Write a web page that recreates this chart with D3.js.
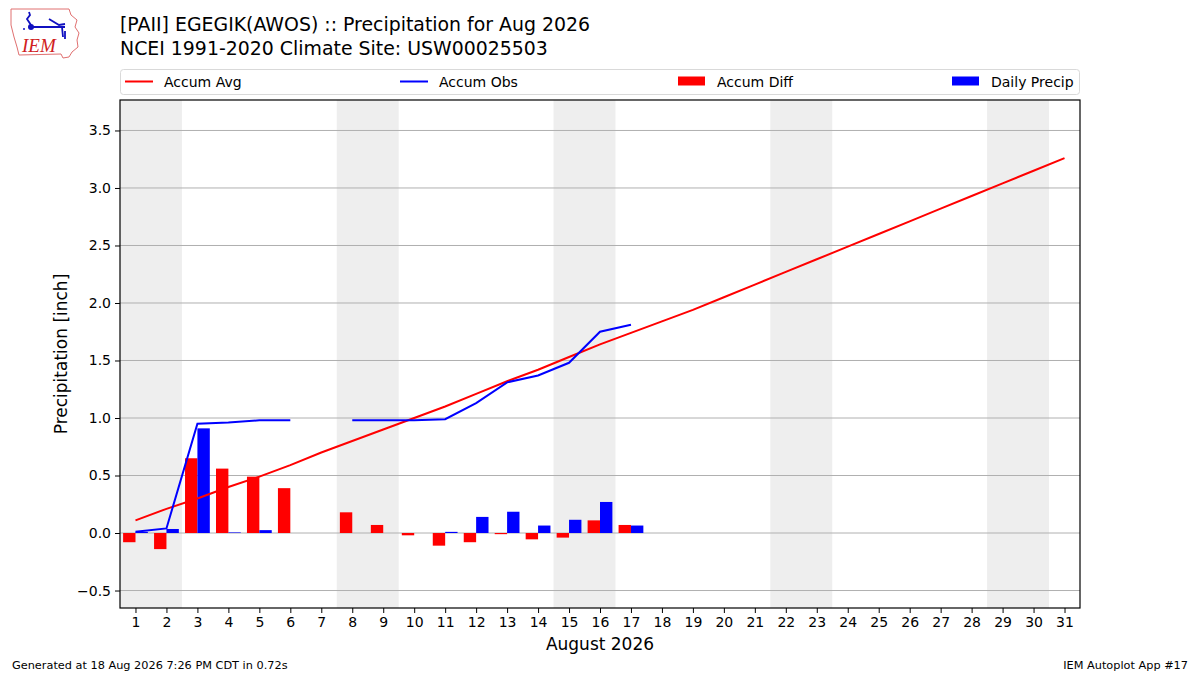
<!DOCTYPE html>
<html>
<head>
<meta charset="utf-8">
<script src="https://cdn.jsdelivr.net/npm/d3@7"></script>
<style>
  body { margin: 0; background: #fff; }
  text { font-family: "DejaVu Sans", sans-serif; fill: #000; }
</style>
</head>
<body>
<div id="chart"></div>
<script>
// day of month
var days = d3.range(1, 32);
// accumulated climatology average (inch)
var accumAvg = [0.11, 0.21, 0.30, 0.40, 0.49, 0.59, 0.70, 0.80, 0.90, 1.00,
    1.10, 1.21, 1.32, 1.42, 1.53, 1.64, 1.74, 1.84, 1.94, 2.05,
    2.16, 2.27, 2.38, 2.49, 2.60, 2.71, 2.82, 2.93, 3.04, 3.15, 3.26];
// accumulated observed (null = missing)
var accumObs = [0.01, 0.04, 0.95, 0.96, 0.98, 0.98, null, 0.98, 0.98, 0.98,
    0.99, 1.13, 1.31, 1.37, 1.48, 1.75, 1.81];
// obs minus avg
var accumDiff = [-0.08, -0.14, 0.65, 0.56, 0.49, 0.39, null, 0.18, 0.07, -0.02,
    -0.11, -0.08, -0.01, -0.055, -0.04, 0.11, 0.07];
var dailyPrecip = [0.01, 0.035, 0.91, 0.005, 0.025, 0, null, 0, 0, 0,
    0.01, 0.14, 0.185, 0.065, 0.115, 0.27, 0.065];
// weekend days (Sat/Sun) shaded
var weekends = [[1, 2], [8, 9], [15, 16], [22, 23], [29, 30]];
var yTicks = [-0.5, 0, 0.5, 1.0, 1.5, 2.0, 2.5, 3.0, 3.5];

var width = 1200,
    height = 675,
    margin = {top: 100, right: 120, bottom: 67, left: 120};

var svg = d3.select("#chart")
    .append("svg")
    .attr("width", width)
    .attr("height", height);

var plotW = width - margin.left - margin.right,
    plotH = height - margin.top - margin.bottom;

var g = svg.append("g")
    .attr("transform", `translate(${margin.left},${margin.top})`);

var xScale = d3.scaleLinear().domain([0.5, 31.5]).range([0, plotW]);
var yScale = d3.scaleLinear().domain([-0.652, 3.765]).range([plotH, 0]);

// weekend shading
g.selectAll(".weekend")
    .data(weekends)
    .enter().append("rect")
    .attr("class", "weekend")
    .attr("x", d => xScale(d[0] - 0.5))
    .attr("y", 0)
    .attr("width", d => xScale(d[1] + 0.5) - xScale(d[0] - 0.5))
    .attr("height", plotH)
    .style("fill", "#eeeeee");

// grid
g.selectAll(".grid")
    .data(yTicks)
    .enter().append("line")
    .attr("class", "grid")
    .attr("x1", 0)
    .attr("x2", plotW)
    .attr("y1", d => yScale(d))
    .attr("y2", d => yScale(d))
    .style("stroke", "#b0b0b0")
    .style("stroke-width", 1);

var barW = xScale(1.4) - xScale(1);

// Accum diff bars
var diffData = accumDiff.map((v, i) => ({day: i + 1, v: v})).filter(d => d.v !== null);
g.selectAll(".bar.diff")
    .data(diffData)
    .enter().append("rect")
    .attr("class", "bar diff")
    .style("fill", "#ff0000")
    .attr("x", d => xScale(d.day) - barW)
    .attr("y", d => yScale(Math.max(0, d.v)))
    .attr("width", barW)
    .attr("height", d => Math.abs(yScale(d.v) - yScale(0)));

// daily precip bars
var dailyData = dailyPrecip.map((v, i) => ({day: i + 1, v: v})).filter(d => d.v !== null);
g.selectAll(".bar.daily")
    .data(dailyData)
    .enter().append("rect")
    .attr("class", "bar daily")
    .style("fill", "#0000ff")
    .attr("x", d => xScale(d.day))
    .attr("y", d => yScale(Math.max(0, d.v)))
    .attr("width", barW)
    .attr("height", d => Math.abs(yScale(d.v) - yScale(0)));

// lines
var line = d3.line()
    .defined(d => d.v !== null)
    .x(d => xScale(d.day))
    .y(d => yScale(d.v));

g.append("path")
    .datum(accumAvg.map((v, i) => ({day: i + 1, v: v})))
    .attr("d", line)
    .style("fill", "none")
    .style("stroke", "#ff0000")
    .style("stroke-width", 2);

g.append("path")
    .datum(accumObs.map((v, i) => ({day: i + 1, v: v})))
    .attr("d", line)
    .style("fill", "none")
    .style("stroke", "#0000ff")
    .style("stroke-width", 2);

// frame
g.append("rect")
    .attr("width", plotW)
    .attr("height", plotH)
    .style("fill", "none")
    .style("stroke", "#000")
    .style("stroke-width", 1.2);

// axes
var xAxis = d3.axisBottom(xScale).tickValues(days).tickFormat(d3.format("d")).tickSize(5).tickSizeOuter(0).tickPadding(4);
var yAxis = d3.axisLeft(yScale).tickValues(yTicks)
    .tickFormat(d => d3.format(".1f")(d).replace("-", "\u2212")).tickSize(5).tickSizeOuter(0).tickPadding(4);

var xa = g.append("g")
    .attr("class", "x axis")
    .attr("transform", `translate(0,${plotH})`)
    .call(xAxis);
var ya = g.append("g")
    .attr("class", "y axis")
    .call(yAxis);
[xa, ya].forEach(a => {
    a.select(".domain").remove();
    a.selectAll("text").style("font-size", "14px").style("font-family", "DejaVu Sans");
    a.selectAll("line").style("stroke", "#000");
});

// axis labels
svg.append("text")
    .attr("x", margin.left + plotW / 2)
    .attr("y", 650)
    .attr("text-anchor", "middle")
    .style("font-size", "17px")
    .text("August 2026");

svg.append("text")
    .attr("transform", `translate(67,${margin.top + plotH / 2}) rotate(-90)`)
    .attr("text-anchor", "middle")
    .style("font-size", "17px")
    .text("Precipitation [inch]");

// titles
svg.append("text")
    .attr("x", 120).attr("y", 31)
    .style("font-size", "18.9px")
    .text("[PAII] EGEGIK(AWOS) :: Precipitation for Aug 2026");
svg.append("text")
    .attr("x", 120).attr("y", 55)
    .style("font-size", "18.9px")
    .text("NCEI 1991-2020 Climate Site: USW00025503");

// legend
var legend = svg.append("g");
legend.append("rect")
    .attr("x", 120.5).attr("y", 69.5)
    .attr("width", 959).attr("height", 25)
    .attr("rx", 3)
    .style("fill", "#fff")
    .style("stroke", "#d9d9d9");

var legendItems = [
    {name: "Accum Avg", color: "#ff0000", type: "line", x: 125},
    {name: "Accum Obs", color: "#0000ff", type: "line", x: 400},
    {name: "Accum Diff", color: "#ff0000", type: "rect", x: 678},
    {name: "Daily Precip", color: "#0000ff", type: "rect", x: 952}
];
legendItems.forEach(d => {
    if (d.type === "line") {
        legend.append("line")
            .attr("x1", d.x).attr("x2", d.x + 28)
            .attr("y1", 81.5).attr("y2", 81.5)
            .style("stroke", d.color).style("stroke-width", 2);
    } else {
        legend.append("rect")
            .attr("x", d.x).attr("y", 76.5)
            .attr("width", 27).attr("height", 9)
            .style("fill", d.color);
    }
    legend.append("text")
        .attr("x", d.x + 39).attr("y", 86.5)
        .style("font-size", "14px")
        .text(d.name);
});

// footer
svg.append("text")
    .attr("x", 12).attr("y", 669)
    .style("font-size", "11.3px")
    .text("Generated at 18 Aug 2026 7:26 PM CDT in 0.72s");
svg.append("text")
    .attr("x", 1188).attr("y", 669)
    .attr("text-anchor", "end")
    .style("font-size", "11.3px")
    .text("IEM Autoplot App #17");

// IEM logo (rough)
var logo = svg.append("g").attr("transform", "translate(9,7)");
logo.append("path")
    .attr("d", "M2,2 L60,2 L62,8 L68,13 L66,20 L70,26 L68,33 L69,40 L63,45 L60,50 L54,51 L52,47 L10,48 L8,40 L5,30 L2,18 Z")
    .style("fill", "none")
    .style("stroke", "#e07070")
    .style("stroke-width", 1);
logo.append("path")
    .attr("d", "M20,20 L56,20 M22,18 L18,12 L21,8 L20,5 M40,12 L50,18 L56,17 M53,20 L54,30 M56,24 L56,32")
    .style("fill", "none")
    .style("stroke", "#1010c0")
    .style("stroke-width", 1.8);
logo.append("circle").attr("cx", 22).attr("cy", 20).attr("r", 3).style("fill", "#1010c0");
logo.append("circle").attr("cx", 15).attr("cy", 22).attr("r", 1).style("fill", "#1010c0");
logo.append("text")
    .attr("x", 13).attr("y", 45)
    .style("font-family", "Liberation Serif")
    .style("font-style", "italic")
    .style("font-size", "19px")
    .style("fill", "#d02020")
    .text("IEM");
</script>
</body>
</html>
